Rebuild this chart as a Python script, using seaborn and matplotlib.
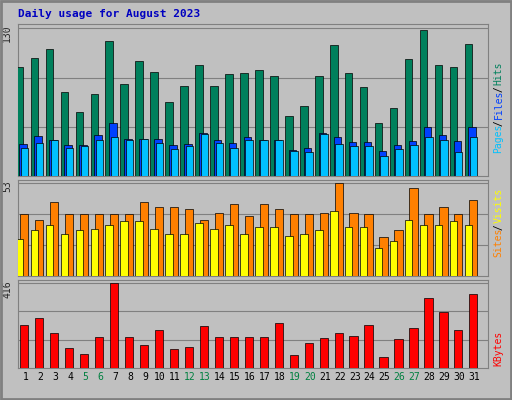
import numpy as np
import matplotlib
matplotlib.use("Agg")
import matplotlib.pyplot as plt
import seaborn as sns

sns.set_style("white")
plt.rcParams['font.family'] = ['DejaVu Sans Mono']

days = list(range(1, 32))
weekend = [5, 6, 12, 13, 19, 20, 26, 27]
hits = [96,104,112,74,56,72,119,81,101,92,65,79,98,79,90,91,93,88,53,62,88,115,91,78,47,60,103,129,98,96,116]
files = [28,35,32,27,27,36,47,33,33,33,27,28,38,32,29,34,32,32,23,25,38,34,30,30,22,27,31,43,36,31,43]
pages = [25,29,32,25,26,32,34,32,33,29,24,26,37,29,25,32,32,32,22,21,37,28,26,26,18,24,27,34,32,21,34]
sites = [35,32,42,35,35,35,35,35,42,39,39,38,32,36,41,34,41,38,35,35,36,53,36,35,22,26,50,35,39,35,43]
visits = [21,26,29,24,26,27,29,31,31,27,24,24,30,27,29,24,28,28,23,24,26,37,28,28,16,20,32,29,29,31,29]
kbytes = [208,243,168,99,69,149,416,153,114,183,94,104,203,149,153,153,149,218,64,124,144,168,158,208,54,139,193,342,272,183,361]

BG = "#C0C0C0"
fig = plt.figure(figsize=(5.12, 4.0), dpi=100, facecolor=BG)
fig.patches.append(plt.Rectangle((0.002, 0.002), 0.996, 0.996, transform=fig.transFigure,
                                 fill=False, edgecolor="#808080", lw=2))
fig.text(0.035, 0.965, "Daily usage for August 2023", color="#0000C0", fontsize=8,
         fontweight="bold", va="center")

x = np.array(days)
def panel(rect, series, ymax, lab):
    ax = fig.add_axes(rect, facecolor=BG)
    for vals, col, off, w in series:
        ax.bar(x + off, vals, width=w, color=col, edgecolor="black", lw=0.5, align="edge", zorder=3)
    ax.set_xlim(0.5, 31.9)
    ax.set_ylim(0, ymax * 1.03)
    for f in (1/3, 2/3, 1.0):
        ax.axhline(ymax * f, color="#808080", lw=0.8, zorder=1)
    ax.set_yticks([])
    ax.set_xticks([])
    for s in ax.spines.values():
        s.set_color("#808080")
    ax.text(-0.012, 1.0, lab, transform=ax.transAxes, rotation=90, ha="right", va="top", fontsize=7)
    return ax

a1 = panel([0.035, 0.56, 0.918, 0.38],
           [(hits, "#00805C", -0.65, 0.5), (files, "#0040FF", -0.4, 0.5), (pages, "#00C0FF", -0.3, 0.5)], 130, "130")
a2 = panel([0.035, 0.31, 0.918, 0.24],
           [(sites, "#FF8000", -0.35, 0.55), (visits, "#FFFF00", -0.65, 0.5)], 53, "53")
a3 = panel([0.035, 0.08, 0.918, 0.22], [(kbytes, "#FF0000", -0.35, 0.55)], 416, "416")
a3.set_xticks(days)
a3.set_xticklabels([str(d) for d in days], fontsize=7)
a3.tick_params(length=0, pad=3)
for t, d in zip(a3.get_xticklabels(), days):
    t.set_color("#008040" if d in weekend else "black")

def side(ax, parts, bottom):
    hpx = ax.get_position().height * 400
    y = bottom
    for txt, col in parts:
        ax.text(1.012, y, txt, transform=ax.transAxes, rotation=90, ha="left", va="bottom",
                fontsize=7, color=col)
        y += len(txt) * 4.25 / hpx

side(a1, [("Pages", "#00C0FF"), (" / ", "black"), ("Files", "#0040FF"), (" / ", "black"), ("Hits", "#00805C")], 0.15)
side(a2, [("Sites", "#FF8000"), (" / ", "black"), ("Visits", "#FFFF00")], 0.2)
side(a3, [("KBytes", "#FF0000")], 0.02)

fig.savefig("out.png", dpi=100, facecolor=BG)
